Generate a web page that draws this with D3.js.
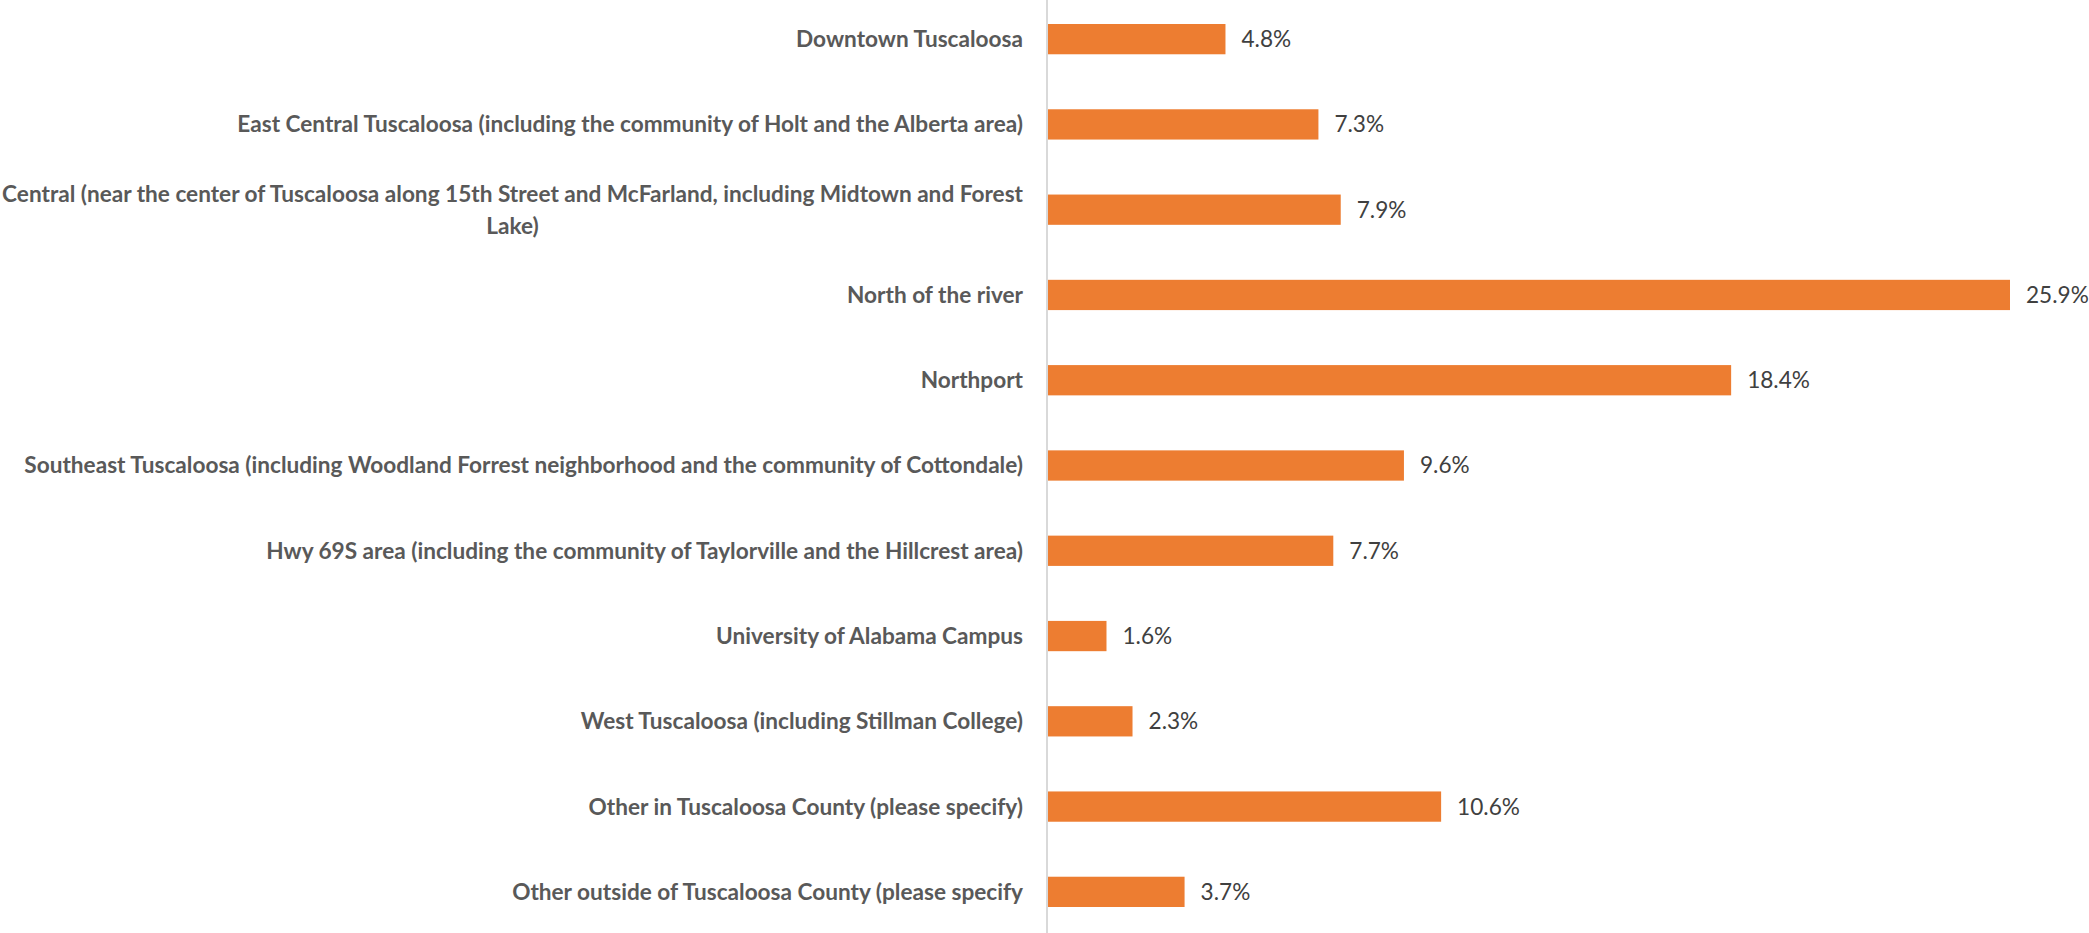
<!DOCTYPE html>
<html>
<head>
<meta charset="utf-8">
<script src="https://cdn.jsdelivr.net/npm/d3@7"></script>
<style>
  html, body { margin: 0; padding: 0; background: #fff; }
  svg { display: block; }
  .cat-label { font-family: Lato, "Open Sans", sans-serif; font-weight: bold; fill: #595959; }
  .val-label { font-family: Lato, "Open Sans", sans-serif; fill: #404040; }
</style>
</head>
<body>
<div id="chart"></div>
<script>
const categories = [
  'Downtown Tuscaloosa',
  'East Central Tuscaloosa (including the community of Holt and the Alberta area)',
  'Central (near the center of Tuscaloosa along 15th Street and McFarland, including Midtown and Forest|Lake)',
  'North of the river',
  'Northport',
  'Southeast Tuscaloosa (including Woodland Forrest neighborhood and the community of Cottondale)',
  'Hwy 69S area (including the community of Taylorville and the Hillcrest area)',
  'University of Alabama Campus',
  'West Tuscaloosa (including Stillman College)',
  'Other in Tuscaloosa County (please specify)',
  'Other outside of Tuscaloosa County (please specify'
];

const values = [4.8, 7.3, 7.9, 25.9, 18.4, 9.6, 7.7, 1.6, 2.3, 10.6, 3.7];

const width = 2089, height = 933;
const axisX = 1047;
const labelGap = 24;

const svg = d3.select('#chart')
.append('svg')
.attr('width', width)
.attr('height', height)

let xScale = d3.scaleLinear()
.domain([0, 25.9])
.range([axisX, 2010])

let yScale = d3.scaleBand()
.domain(categories)
.range([-3.5, 934.5])
.paddingInner(0.645)
.paddingOuter(0.3225)

// fit label font so the widest label spans like the original
const probe = svg.append('text').attr('class', 'cat-label').style('font-size', '20px')
.text('Southeast Tuscaloosa (including Woodland Forrest neighborhood and the community of Cottondale)')
const fontSize = 20 * 999 / probe.node().getComputedTextLength();
probe.remove();

// axis line
svg.append('line')
.attr('x1', axisX)
.attr('x2', axisX)
.attr('y1', 0)
.attr('y2', height)
.attr('stroke', '#d9d9d9')
.attr('stroke-width', 2)

svg.append('g')
.selectAll('rect')
.data(values)
.enter()
.append('rect')
.attr('x', xScale(0) + 1)
.attr('y', (d, i) => yScale(categories[i]))
.attr('width', d => xScale(d) - xScale(0) - 1)
.attr('height', yScale.bandwidth())
.attr('fill', '#ED7D31')

svg.append('g')
.selectAll('text')
.data(values)
.enter()
.append('text')
.attr('class', 'val-label')
.attr('x', d => xScale(d) + 16)
.attr('y', (d, i) => yScale(categories[i]) + yScale.bandwidth() / 2)
.attr('dy', '0.35em')
.style('font-size', fontSize + 'px')
.text(d => d.toFixed(1) + '%')

const labelG = svg.append('g')

categories.map(c => {
  const lines = c.split('|');
  const cy = yScale(c) + yScale.bandwidth() / 2;
  const lineH = 32;
  const top = cy - (lines.length - 1) * lineH / 2;

  let first = labelG.append('text')
  .attr('class', 'cat-label')
  .attr('x', axisX - labelGap)
  .attr('y', top)
  .attr('dy', '0.35em')
  .style('text-anchor', 'end')
  .style('font-size', fontSize + 'px')
  .text(lines[0])

  if(lines.length > 1)
  {
    const w = first.node().getComputedTextLength();
    lines.slice(1).map((l, i) => {
      labelG.append('text')
      .attr('class', 'cat-label')
      .attr('x', axisX - labelGap - w / 2)
      .attr('y', top + (i + 1) * lineH)
      .attr('dy', '0.35em')
      .style('text-anchor', 'middle')
      .style('font-size', fontSize + 'px')
      .text(l)
    })
  }
})
</script>
</body>
</html>
